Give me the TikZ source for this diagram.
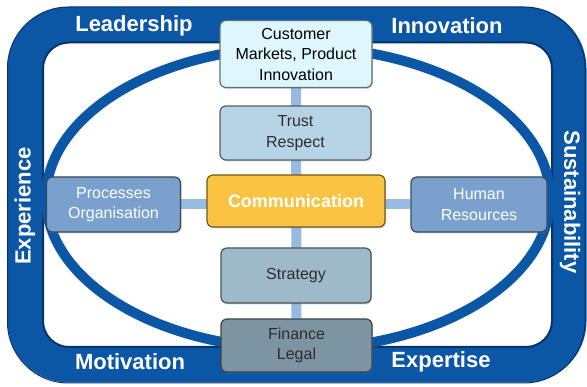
\documentclass[tikz,border=0pt]{standalone}
\usepackage{fontspec}
\setmainfont{Liberation Sans}
\usetikzlibrary{shadows,backgrounds}

\definecolor{bandblue}{RGB}{12,86,166}
\definecolor{banddark}{RGB}{6,50,110}
\definecolor{barblue}{RGB}{150,186,224}
\definecolor{custfill}{RGB}{222,246,253}
\definecolor{trustfill}{RGB}{183,212,230}
\definecolor{commfill}{RGB}{250,196,66}
\definecolor{sidefill}{RGB}{122,161,205}
\definecolor{stratfill}{RGB}{158,186,200}
\definecolor{finfill}{RGB}{125,148,162}
\definecolor{boxtext}{RGB}{45,45,45}

\tikzset{
  box/.style={draw=#1!45!black, line width=1.2pt, rounded corners=6pt, inner sep=0pt,
    align=center, font=\fontsize{16}{20.5}\selectfont, text=boxtext,
    drop shadow={opacity=0.35, shadow xshift=1pt, shadow yshift=-1.5pt}},
  bandlabel/.style={text=white, font=\fontsize{22}{24}\selectfont\bfseries},
  bar/.style={barblue, line width=10pt}
}

\begin{document}
\begin{tikzpicture}[x=1pt, y=-1pt]
  \useasboundingbox (0,0) rectangle (587,387);

  % boxes along the middle
  \node[box=custfill, fill=custfill, text=black, minimum width=152, minimum height=67] (cust) at (296,54) {Customer\\Markets, Product\\Innovation};
  \node[box=trustfill, fill=trustfill, minimum width=151, minimum height=54] (trust) at (295.5,133) {Trust\\Respect};
  \node[box=commfill, fill=commfill, text=white, font=\fontsize{18}{20}\selectfont\bfseries, minimum width=178, minimum height=52] (comm) at (296,201) {Communication};
  \node[box=stratfill, fill=stratfill, minimum width=150, minimum height=55] (strat) at (296,275.5) {Strategy};
  \node[box=finfill, fill=finfill, minimum width=151, minimum height=53] (fin) at (296.5,345.5) {Finance\\Legal};

  % side boxes
  \node[box=sidefill, fill=sidefill, text=white, minimum width=134, minimum height=55] (proc) at (113.5,204.5) {Processes\\Organisation};
  \node[box=sidefill, fill=sidefill, text=white, minimum width=136, minimum height=55] (hr) at (479,204.5) {Human\\Resources};

  \begin{scope}[on background layer]
    % outer band
    \draw[bandblue, line width=35pt, rounded corners=44pt] (25,24.5) rectangle (569,365);
    \draw[banddark, line width=2pt, rounded corners=26pt] (43,42.5) rectangle (552,347);
    \draw[banddark, line width=1pt, rounded corners=61pt] (7.5,7) rectangle (585,383);
    % ellipse
    \draw[bandblue, line width=10pt] (298,198) ellipse [x radius=252, y radius=151];
    % connecting bars
    \draw[bar] (cust) -- (fin);
    \draw[bar] (proc) -- (hr);
  \end{scope}

  % labels on the band
  \node[bandlabel] (lead) at (134,26) {Leadership};
  \node[bandlabel] (innov) at (447,26) {Innovation};
  \node[bandlabel] (motiv) at (130,362) {Motivation};
  \node[bandlabel] (expert) at (441,362) {Expertise};
  \node[bandlabel, rotate=90] (exper) at (25,206) {Experience};
  \node[bandlabel, rotate=-90] (sustain) at (570,202) {Sustainability};
\end{tikzpicture}
\end{document}
